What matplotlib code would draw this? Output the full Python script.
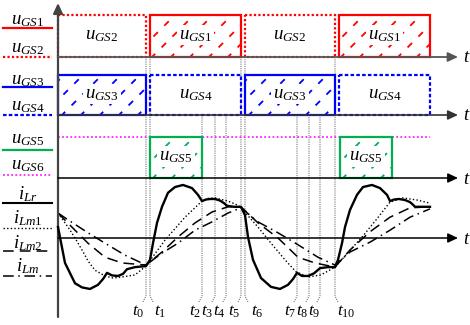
import matplotlib
matplotlib.use('Agg')
import matplotlib.pyplot as plt
from matplotlib.patches import Rectangle
import numpy as np

plt.rcParams['font.family'] = ['Liberation Serif', 'DejaVu Serif']
plt.rcParams['mathtext.fontset'] = 'custom'
plt.rcParams['mathtext.rm'] = 'Liberation Serif'
plt.rcParams['mathtext.it'] = 'Liberation Serif:italic'

# ---------------- data (time in arbitrary units) ----------------
t_marks = [88, 92, 144, 157, 168, 183, 187, 239, 251, 262, 277]
t_names = [r'$t_{\mathrm{%d}}$' % k for k in range(11)]
t_from_row2 = [False, False, True, True, True, False, False, True, True, True, False]

gs1_on = [(92, 183), (281, 372)]
gs2_on = [(0, 88), (187, 277)]
gs3_on = [(0, 88), (187, 277)]
gs4_on = [(92, 183), (281, 372)]
gs5_on = [(92, 144), (282, 334)]
gs6_span = (0, 372)

t_lr = [0, 7, 17, 24, 32, 40, 45, 49, 54, 60, 65, 69, 77, 88, 92, 95, 99, 104, 110, 117,
        125, 134, 140, 144, 148, 152, 157, 162, 166, 169, 176, 183, 187, 190, 195, 203,
        213, 222, 230, 235, 239, 244, 250, 256, 262, 270, 277, 280, 284, 287, 292, 299,
        305, 314, 322, 329, 332, 336, 341, 347, 352, 355, 357, 372]
i_lr = [0.21, -0.48, -0.87, -0.95, -0.98, -0.90, -0.79, -0.67, -0.72, -0.73, -0.69, -0.60,
        -0.56, -0.54, -0.42, -0.10, 0.29, 0.60, 0.87, 0.98, 1.02, 0.96, 0.83, 0.71, 0.74,
        0.75, 0.75, 0.72, 0.67, 0.62, 0.60, 0.60, 0.44, 0.02, -0.42, -0.77, -0.94, -0.98,
        -0.90, -0.79, -0.67, -0.73, -0.73, -0.68, -0.58, -0.56, -0.56, -0.42, -0.10, 0.21,
        0.54, 0.83, 0.98, 1.02, 0.96, 0.83, 0.71, 0.74, 0.75, 0.73, 0.69, 0.64, 0.60, 0.60]

t_lm1 = [0, 10, 17, 24, 30, 37, 47, 55, 64, 77, 88, 107, 127, 144, 150, 157, 170, 180, 183,
         200, 213, 227, 238, 250, 263, 277, 305, 319, 332, 345, 359, 372]
i_lm1 = [0.48, 0.21, 0.0, -0.23, -0.44, -0.62, -0.73, -0.77, -0.75, -0.71, -0.54, -0.04,
         0.40, 0.71, 0.76, 0.77, 0.71, 0.63, 0.58, 0.21, -0.10, -0.42, -0.65, -0.75, -0.71,
         -0.56, 0.04, 0.37, 0.69, 0.77, 0.73, 0.67]

t_lm2 = [0, 17, 30, 47, 64, 88, 104, 120, 137, 154, 170, 183, 200, 220, 240, 257, 277, 292,
         312, 332, 352, 372]
i_lm2 = [0.48, 0.15, -0.10, -0.37, -0.48, -0.52, -0.27, 0.02, 0.29, 0.50, 0.60, 0.60, 0.29,
         0.0, -0.37, -0.48, -0.56, -0.23, 0.12, 0.40, 0.58, 0.60]

t_lm = [0, 10, 30, 47, 67, 88, 104, 120, 137, 154, 170, 183, 200, 220, 240, 260, 277, 292,
        312, 332, 352, 372]
i_lm = [0.48, 0.35, 0.10, -0.10, -0.33, -0.52, -0.29, -0.10, 0.15, 0.31, 0.48, 0.58, 0.31,
        0.10, -0.13, -0.37, -0.52, -0.27, -0.08, 0.15, 0.40, 0.56]

# ---------------- layout ----------------
ROW1 = (57, 42)
ROW2 = (115, 40)
ROW3 = (178, 41)
CUR = (238, 52)
T_END = 400
label_x = [80, 102, 137.5, 149.5, 161.5, 176, 199, 232.5, 244.5, 256.5, 288]

RED, BLUE, GREEN, MAG = '#ff0000', '#0000ff', '#00b050', '#ff00ff'
FS = 13.5
FS_T = 12.5


def ypos(v, row):
    return row[0] - np.asarray(v, dtype=float) * row[1]


fig = plt.figure(figsize=(4.7, 3.25), dpi=100)
ax = fig.add_axes([0, 0, 1, 1])
ax.set_xlim(-58, 412)
ax.set_ylim(325, 0)
ax.axis('off')


def hatch(rect, x0, x1, ytop, ybot, color, spacing=19):
    h = ybot - ytop
    for s in np.arange(x0 - h + 6, x1 + spacing, spacing):
        ln, = ax.plot([s, s + h], [ybot, ytop], color=color, lw=1.3,
                      linestyle=(1, (3.5, 5)), zorder=2)
        ln.set_clip_path(rect)


def box(a, b, row, color, solid, label, hatched, ls=None):
    top = ypos(1, row)
    rect = Rectangle((a, top), b - a, row[1], fill=False, edgecolor=color,
                     lw=1.6, linestyle='-' if solid else ls, zorder=3)
    ax.add_patch(rect)
    if hatched:
        hatch(rect, a, b, top, row[0], color)
    if label:
        ax.text((a + b) / 2, row[0] - row[1] / 2 - 1, label, ha='center', va='center',
                fontsize=FS, zorder=4,
                bbox=dict(boxstyle='square,pad=0.1', fc='white', ec='none') if hatched else None)


for a, b in gs2_on:
    box(a, b, ROW1, RED, False, r'$u_{GS\mathrm{2}}$', False, ls=(0, (1, 1)))
for a, b in gs1_on:
    box(a, b, ROW1, RED, True, r'$u_{GS\mathrm{1}}$', True)
for a, b in gs3_on:
    box(a, b, ROW2, BLUE, True, r'$u_{GS\mathrm{3}}$', True)
for a, b in gs4_on:
    box(a, b, ROW2, BLUE, False, r'$u_{GS\mathrm{4}}$', False, ls=(0, (1.6, 1)))

ax.plot(gs6_span, ypos([1, 1], ROW3), color=MAG, lw=1.1, linestyle=(0, (1.2, 1.5)), zorder=2)
for a, b in gs5_on:
    box(a, b, ROW3, GREEN, True, r'$u_{GS\mathrm{5}}$', True)

# currents
ax.plot(t_lm1, ypos(i_lm1, CUR), color='k', lw=1.0, linestyle=(0, (1, 1.6)), zorder=3)
ax.plot(t_lm2, ypos(i_lm2, CUR), color='k', lw=1.1, linestyle=(0, (7, 4)), zorder=3)
ax.plot(t_lm, ypos(i_lm, CUR), color='k', lw=1.1, linestyle=(0, (7, 3, 1, 3)), zorder=3)
ax.plot(t_lr, ypos(i_lr, CUR), color='k', lw=1.7, zorder=4, solid_joinstyle='round')

# axes
arrow = dict(arrowstyle='-|>,head_length=0.6,head_width=0.28', shrinkA=0, shrinkB=0)
ax.annotate('', xy=(0, 3), xytext=(0, 317),
            arrowprops=dict(arrow, lw=1.6, color='#444444'))
for row, col, lw in [(ROW1, '#555555', 1.3), (ROW2, '#333333', 1.2), (ROW3, 'k', 1.1), (CUR, 'k', 1.1)]:
    ax.annotate('', xy=(T_END, row[0]), xytext=(0, row[0]),
                arrowprops=dict(arrow, lw=lw, color=col), zorder=5)
    ax.text(T_END + 5, row[0] + 1, r'$t$', fontsize=FS, ha='left', va='center')

# time markers
for k, tm in enumerate(t_marks):
    y0 = ROW2[0] if t_from_row2[k] else ROW1[0]
    lx = label_x[k]
    d = 3 if lx > tm else -3
    ax.plot([tm, tm, tm + d], [y0, 296, 302], color='#777777', lw=0.8,
            linestyle=(0, (1, 1)), zorder=1)
    ax.text(lx, 312, t_names[k], fontsize=FS_T, ha='center', va='center')

# left legend
leg = [
    (r'$u_{GS\mathrm{1}}$', 20, 28, RED, '-', 1.6),
    (r'$u_{GS\mathrm{2}}$', 48, 57, RED, (0, (1, 1)), 1.6),
    (r'$u_{GS\mathrm{3}}$', 80, 87, BLUE, '-', 1.6),
    (r'$u_{GS\mathrm{4}}$', 106, 115, BLUE, (0, (1.6, 1)), 1.6),
    (r'$u_{GS\mathrm{5}}$', 140, 150, GREEN, '-', 1.6),
    (r'$u_{GS\mathrm{6}}$', 166, 175, MAG, (0, (1.2, 1.5)), 1.1),
    (r'$i_{Lr}$', 194, 203, 'k', '-', 1.5),
    (r'$i_{Lm\mathrm{1}}$', 218, 228, 'k', (0, (1, 1.6)), 1.0),
    (r'$i_{Lm\mathrm{2}}$', 243, 251, 'k', (0, (7, 4)), 1.1),
    (r'$i_{Lm}$', 266, 276, 'k', (0, (7, 3, 1, 3)), 1.1),
]
for txt, yt, yl, col, ls, lw in leg:
    ax.plot([-55, -6], [yl, yl], color=col, linestyle=ls, lw=lw)
    ax.text(-30, yt, txt, fontsize=FS, ha='center', va='center')

fig.savefig('out.png', dpi=100)
